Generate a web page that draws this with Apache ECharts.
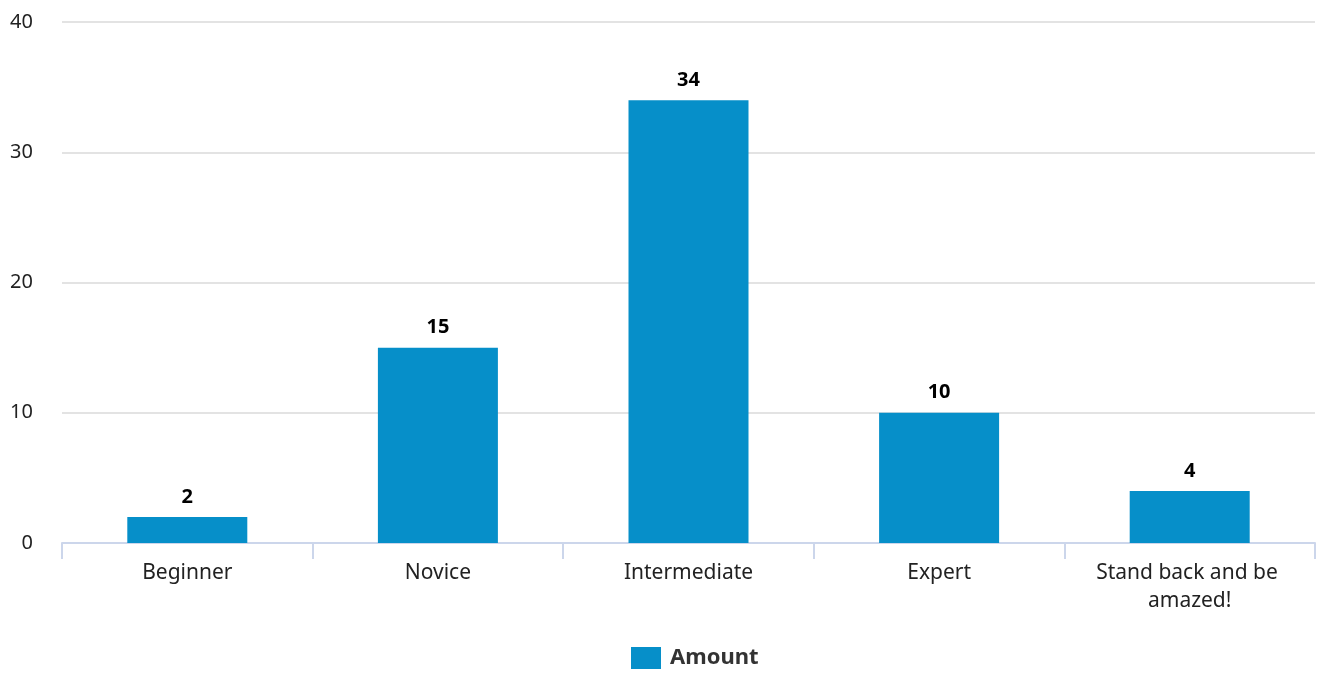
<!DOCTYPE html>
<html><head><meta charset="utf-8">
<script src="https://cdn.jsdelivr.net/npm/echarts@6/dist/echarts.min.js"></script>
<style>html,body{margin:0;padding:0;background:#fff}#c{width:1317px;height:673px}</style>
</head><body><div id="c"></div>
<script>
const categories = ["Beginner", "Novice", "Intermediate", "Expert", "Stand back and be amazed!"];
const amounts = [2, 15, 34, 10, 4];
const yTicks = {min: 0, max: 40, interval: 10};
const seriesName = "Amount";

const FONT = 'Noto Sans';
const chart = echarts.init(document.getElementById('c'), null, {renderer: 'canvas'});
chart.setOption({
  animation: false,
  textStyle: {fontFamily: FONT},
  grid: {left: 62, right: 2, top: 22, bottom: 130, containLabel: false},
  legend: {
    data: [seriesName], top: 642, left: 626,
    itemWidth: 30, itemHeight: 22, itemGap: 10,
    icon: 'rect',
    textStyle: {fontFamily: FONT, fontSize: 22, fontWeight: 'bold', color: '#333', padding: [0, 0, 0, 4]}
  },
  xAxis: {
    type: 'category', data: categories,
    axisLine: {lineStyle: {color: '#ccd6eb', width: 2}},
    axisTick: {show: true, length: 16, alignWithLabel: false, lineStyle: {color: '#ccd6eb', width: 2}},
    axisLabel: {
      fontFamily: FONT, fontSize: 21, color: '#222', margin: 16,
      width: 235, overflow: 'break', lineHeight: 28, interval: 0
    }
  },
  yAxis: {
    type: 'value', min: yTicks.min, max: yTicks.max, interval: yTicks.interval,
    axisLine: {show: false}, axisTick: {show: false},
    splitLine: {lineStyle: {color: '#e3e3e3', width: 2}},
    axisLabel: {fontFamily: FONT, fontSize: 20, color: '#222', margin: 29}
  },
  series: [{
    name: seriesName, type: 'bar', data: amounts, barWidth: 120,
    itemStyle: {color: '#068fc9'},
    label: {show: true, position: 'top', distance: 10, fontFamily: FONT, fontSize: 20, fontWeight: 'bold', color: '#000'}
  }]
});
</script></body></html>
